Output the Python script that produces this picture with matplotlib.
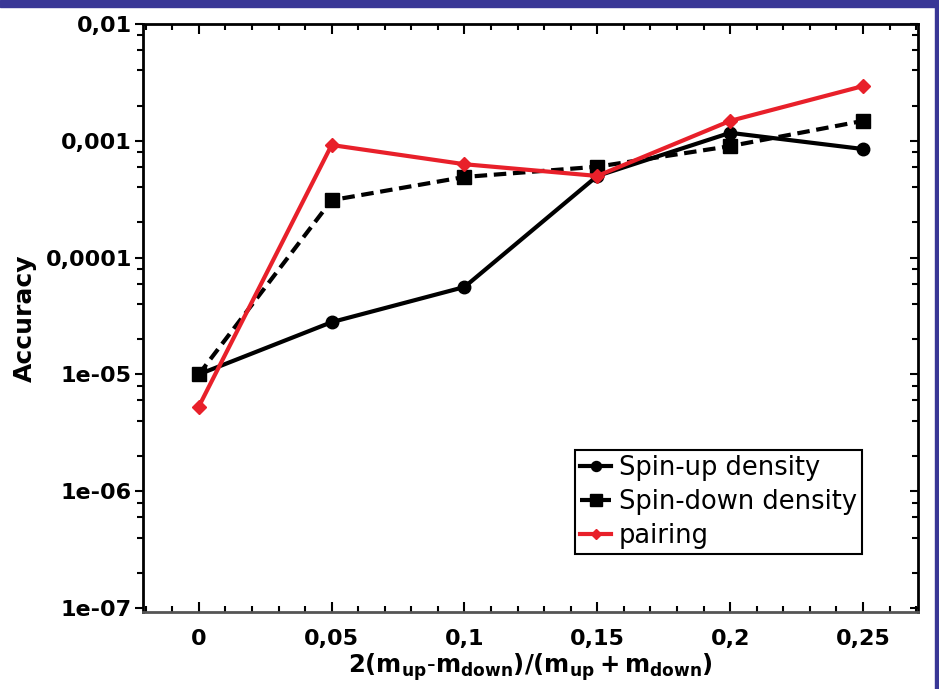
import matplotlib
matplotlib.use('Agg')
import matplotlib.pyplot as plt
from matplotlib.ticker import FixedLocator, NullFormatter
from matplotlib.patches import Rectangle

# data
x = [0, 0.05, 0.1, 0.15, 0.2, 0.25]
spin_up = [1.0e-5, 2.8e-5, 5.6e-5, 5.0e-4, 1.17e-3, 8.5e-4]
spin_down = [1.0e-5, 3.1e-4, 4.9e-4, 6.0e-4, 9.0e-4, 1.48e-3]
pairing = [5.3e-6, 9.2e-4, 6.3e-4, 5.0e-4, 1.48e-3, 2.94e-3]

xticks = [0, 0.05, 0.1, 0.15, 0.2, 0.25]
xticklabels = ['0', '0,05', '0,1', '0,15', '0,2', '0,25']
yticks = [1e-7, 1e-6, 1e-5, 1e-4, 1e-3, 1e-2]
yticklabels = ['1e-07', '1e-06', '1e-05', '0,0001', '0,001', '0,01']

plt.rcParams['mathtext.default'] = 'bf'

fig = plt.figure(figsize=(9.39, 6.89), dpi=100)
ax = fig.add_axes([0.1523, 0.1118, 0.8253, 0.8534])

ax.plot(x, spin_up, color='black', lw=3, marker='o', ms=9, label='Spin-up density')
ax.plot(x, spin_down, color='black', lw=3, ls=(0, (3, 1.6)), marker='s', ms=10,
        label='Spin-down density')
ax.plot(x, pairing, color='#e8202a', lw=3, marker='D', ms=7, label='pairing')

ax.set_yscale('log')
ax.set_ylim(9.25e-8, 1e-2)
ax.set_xlim(-0.021, 0.2707)

ax.set_xticks(xticks)
ax.set_xticklabels(xticklabels)
ax.xaxis.set_minor_locator(FixedLocator([i / 100 for i in range(-2, 28)]))
ax.set_yticks(yticks)
ax.set_yticklabels(yticklabels)
minor_y = [m * 10.0 ** e for e in range(-8, -1) for m in (2, 4, 6, 8)]
ax.yaxis.set_minor_locator(FixedLocator(minor_y))
ax.yaxis.set_minor_formatter(NullFormatter())

for lab in ax.get_xticklabels() + ax.get_yticklabels():
    lab.set_fontsize(16)
    lab.set_fontweight('bold')

ax.tick_params(axis='x', which='both', direction='in', top=True, width=1.5)
ax.tick_params(axis='x', which='major', length=7, pad=12)
ax.tick_params(axis='x', which='minor', length=4)
ax.tick_params(axis='y', which='both', direction='out', width=1.5)
ax.tick_params(axis='y', which='major', length=6, pad=2)
ax.tick_params(axis='y', which='minor', length=4)
ax.tick_params(axis='y', which='both', right=True)

# right side y ticks point inward
for t in ax.yaxis.get_major_ticks() + ax.yaxis.get_minor_ticks():
    t.tick2line.set_marker(0)

for s in ax.spines.values():
    s.set_linewidth(2)
ax.spines['bottom'].set_color('#555555')

ax.set_xlabel(r'$2(m_{up}\text{-}m_{down})/(m_{up}+m_{down})$', fontsize=17.5, labelpad=2)
ax.set_ylabel('Accuracy', fontsize=18, fontweight='bold', labelpad=6)

leg = ax.legend(loc='lower right', bbox_to_anchor=(0.928, 0.0986), borderaxespad=0,
                fontsize=18.5, handlelength=1.2, handletextpad=0.3, labelspacing=0.3,
                borderpad=0.2, fancybox=False, framealpha=1, markerscale=0.8)
leg.get_frame().set_edgecolor('black')
leg.get_frame().set_linewidth(1.5)

# blue frame strips at the top and right edge
fig.patches.append(Rectangle((0, 1 - 7 / 689), 1, 7 / 689, transform=fig.transFigure,
                             color='#393796', zorder=10))
fig.patches.append(Rectangle((1 - 4 / 939, 0), 4 / 939, 1, transform=fig.transFigure,
                             color='#393796', zorder=10))

fig.savefig('out.png', dpi=100)
